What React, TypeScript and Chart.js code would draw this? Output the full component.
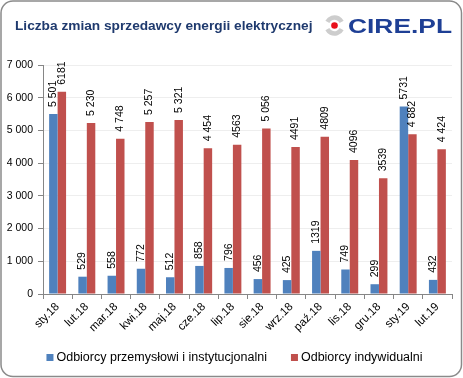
import React, { useEffect, useRef } from 'react';
import { Chart, registerables } from 'chart.js';

Chart.register(...registerables);

const title = 'Liczba zmian sprzedawcy energii elektrycznej';
const logoText = 'CIRE.PL';
const categories = ['sty.18', 'lut.18', 'mar.18', 'kwi.18', 'maj.18', 'cze.18', 'lip.18', 'sie.18', 'wrz.18', 'paź.18', 'lis.18', 'gru.18', 'sty.19', 'lut.19'];
const seriesNames = ['Odbiorcy przemysłowi i instytucjonalni', 'Odbiorcy indywidualni'];
const industrial = [5501, 529, 558, 772, 512, 858, 796, 456, 425, 1319, 749, 299, 5731, 432];
const individual = [6181, 5230, 4748, 5257, 5321, 4454, 4563, 5056, 4491, 4809, 4096, 3539, 4882, 4424];
const industrialLabels = ['5 501', '529', '558', '772', '512', '858', '796', '456', '425', '1319', '749', '299', '5731', '432'];
const individualLabels = ['6181', '5 230', '4 748', '5 257', '5 321', '4 454', '4563', '5 056', '4491', '4809', '4096', '3539', '4 882', '4 424'];
const yTickLabels: Record<number, string> = { 0: '0', 1000: '1 000', 2000: '2 000', 3000: '3 000', 4000: '4 000', 5000: '5 000', 6000: '6 000', 7000: '7 000' };

const BLUE = '#4F81BD';
const RED = '#C0504D';
const FONT = "'Liberation Sans', Arial, sans-serif";

const decorPlugin = {
  id: 'decor',
  beforeDraw(chart: any) {
    const ctx = chart.ctx;
    ctx.save();
    ctx.fillStyle = '#fff';
    ctx.fillRect(0, 0, chart.width, chart.height);
    const x = 1, y = 1, w = chart.width - 2.5, h = chart.height - 2.5, r = 12;
    ctx.beginPath();
    ctx.moveTo(x + r, y);
    ctx.arcTo(x + w, y, x + w, y + h, r);
    ctx.arcTo(x + w, y + h, x, y + h, r);
    ctx.arcTo(x, y + h, x, y, r);
    ctx.arcTo(x, y, x + w, y, r);
    ctx.closePath();
    ctx.strokeStyle = '#8a8a8a';
    ctx.lineWidth = 1.5;
    ctx.stroke();
    ctx.restore();
  },
  afterDraw(chart: any) {
    const ctx = chart.ctx;
    ctx.save();
    // title
    ctx.fillStyle = '#1F3A6E';
    ctx.font = `bold 13.7px ${FONT}`;
    ctx.textAlign = 'left';
    ctx.textBaseline = 'middle';
    ctx.fillText(title, 15, 26);
    // logo
    const cx = 334.5, cy = 25.5;
    ctx.strokeStyle = '#CDCDCD';
    ctx.lineWidth = 4.5;
    ctx.beginPath();
    ctx.arc(cx, cy, 8, -Math.PI * 0.85, -Math.PI * 0.15);
    ctx.stroke();
    ctx.beginPath();
    ctx.arc(cx, cy, 8, Math.PI * 0.15, Math.PI * 0.85);
    ctx.stroke();
    ctx.fillStyle = '#E8101B';
    ctx.beginPath();
    ctx.arc(cx, cy, 3.3, 0, Math.PI * 2);
    ctx.fill();
    ctx.save();
    ctx.fillStyle = '#1E3F95';
    ctx.font = `bold 20px ${FONT}`;
    ctx.textBaseline = 'alphabetic';
    const tw = ctx.measureText(logoText).width;
    ctx.translate(348, 32.5);
    ctx.scale(104 / tw, 1);
    ctx.fillText(logoText, 0, 0);
    ctx.restore();
    // legend
    ctx.font = `12.5px ${FONT}`;
    ctx.textBaseline = 'middle';
    const colors = [BLUE, RED];
    const box = 7, gapBoxText = 3, gapItems = 24;
    const widths = seriesNames.map((n) => box + gapBoxText + ctx.measureText(n).width);
    const total = widths[0] + widths[1] + gapItems;
    let lx = 234.5 - total / 2;
    const ly = 357.5;
    seriesNames.forEach((n, i) => {
      ctx.fillStyle = colors[i];
      ctx.fillRect(lx, ly - box / 2, box, box);
      ctx.fillStyle = '#000';
      ctx.fillText(n, lx + box + gapBoxText, ly);
      lx += widths[i] + gapItems;
    });
    ctx.restore();
  },
};

const labelPlugin = {
  id: 'barLabels',
  afterDatasetsDraw(chart: any) {
    const ctx = chart.ctx;
    const labelSets = [industrialLabels, individualLabels];
    ctx.save();
    ctx.fillStyle = '#000';
    ctx.font = `10.5px ${FONT}`;
    ctx.textAlign = 'left';
    ctx.textBaseline = 'middle';
    chart.data.datasets.forEach((_: any, di: number) => {
      const meta = chart.getDatasetMeta(di);
      meta.data.forEach((el: any, i: number) => {
        ctx.save();
        ctx.translate(el.x, el.y - 7);
        ctx.rotate(-Math.PI / 2);
        ctx.fillText(labelSets[di][i], 0, 0);
        ctx.restore();
      });
    });
    ctx.restore();
  },
};

export default function App() {
  const ref = useRef<HTMLCanvasElement>(null);
  useEffect(() => {
    if (!ref.current) return;
    const chart = new Chart(ref.current, {
      type: 'bar',
      data: {
        labels: categories,
        datasets: [
          { label: seriesNames[0], data: industrial, backgroundColor: BLUE, borderWidth: 0 },
          { label: seriesNames[1], data: individual, backgroundColor: RED, borderWidth: 0 },
        ],
      },
      options: {
        animation: false,
        responsive: false,
        devicePixelRatio: 1,
        categoryPercentage: 0.58,
        barPercentage: 1,
        layout: { padding: { top: 65, left: 0, right: 11, bottom: 44 } },
        plugins: {
          legend: { display: false },
          tooltip: { enabled: false },
          title: { display: false },
        },
        scales: {
          x: {
            grid: { offset: true, drawOnChartArea: false, drawTicks: true, tickLength: 5, color: '#868686' },
            border: { color: '#868686', width: 1 },
            ticks: { maxRotation: 45, minRotation: 45, color: '#000', font: { family: FONT, size: 11.5 }, padding: 1 },
            afterFit(scale: any) { scale.height = 40; },
          },
          y: {
            min: 0,
            max: 7000,
            ticks: {
              stepSize: 1000,
              color: '#000',
              font: { family: FONT, size: 10.5 },
              padding: 5,
              callback: (v: any) => yTickLabels[v as number] ?? String(v),
            },
            grid: { color: '#EEEEEE', tickColor: '#868686', tickLength: 5, drawTicks: true },
            border: { color: '#868686', width: 1 },
            afterFit(scale: any) { scale.width = 43; },
          },
        },
      },
      plugins: [decorPlugin, labelPlugin],
    });
    return () => chart.destroy();
  }, []);
  return (
    <div style={{ position: 'fixed', left: 0, top: 0, width: 463, height: 378 }}>
      <canvas ref={ref} width={463} height={378} style={{ width: 463, height: 378, display: 'block' }} />
    </div>
  );
}
